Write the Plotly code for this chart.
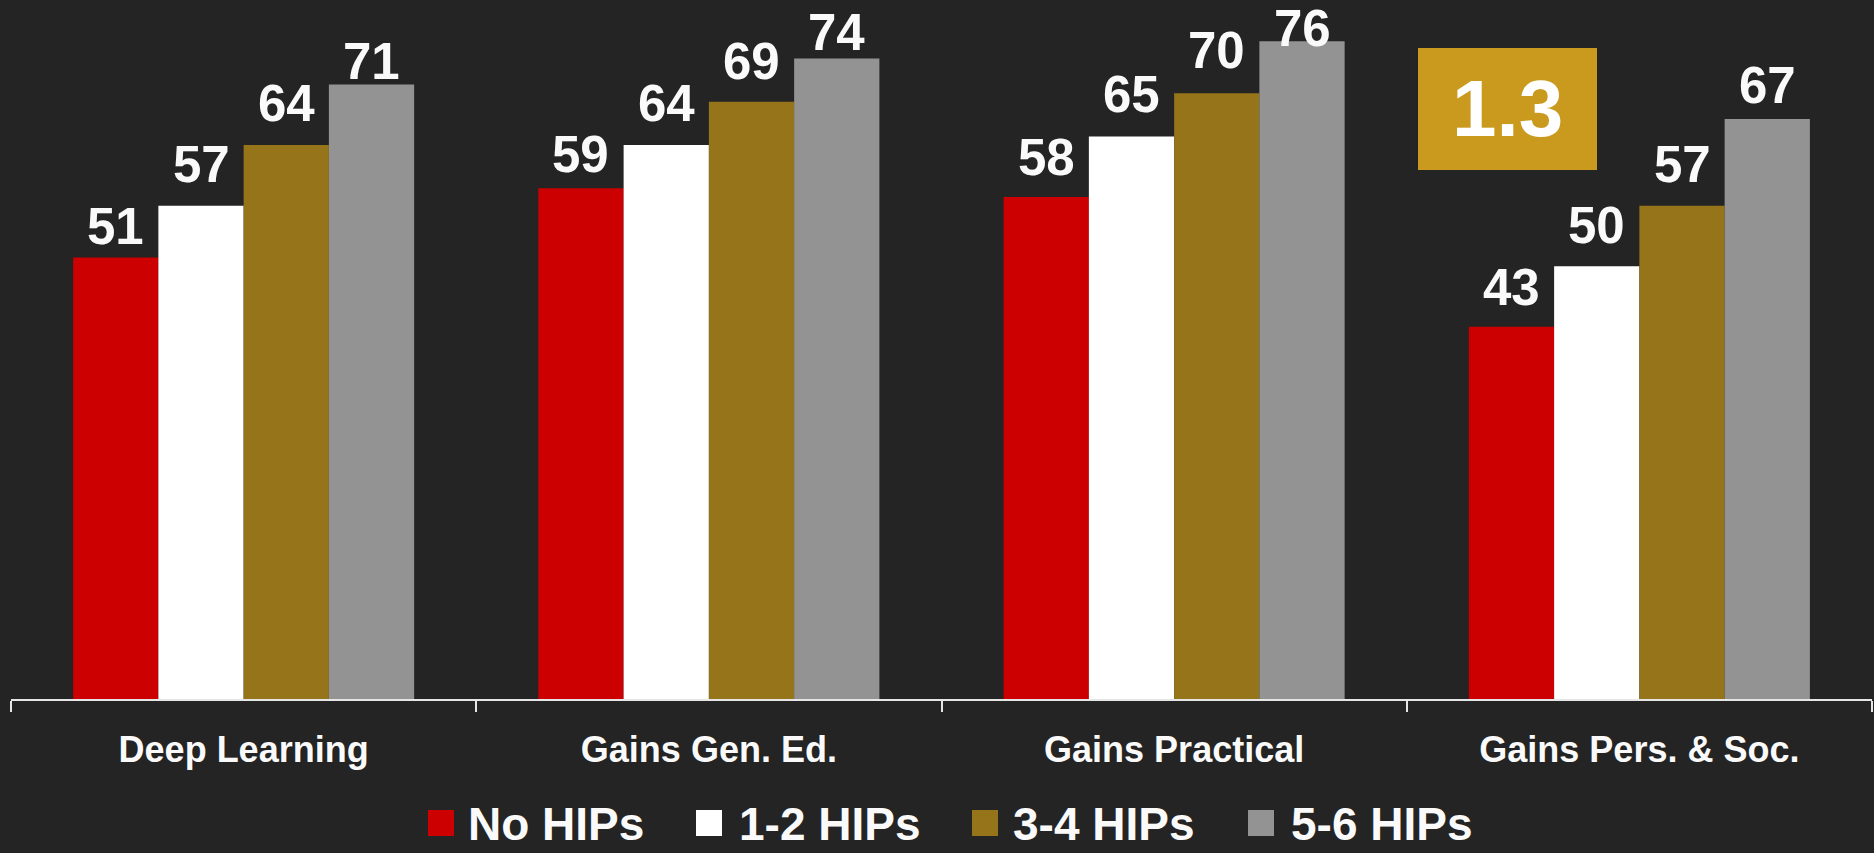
import plotly.graph_objects as go

# ---- data ----
categories = ["Deep Learning", "Gains Gen. Ed.", "Gains Practical", "Gains Pers. & Soc."]
series_names = ["No HIPs", "1-2 HIPs", "3-4 HIPs", "5-6 HIPs"]
no_hips = [51, 59, 58, 43]
hips_1_2 = [57, 64, 65, 50]
hips_3_4 = [64, 69, 70, 57]
hips_5_6 = [71, 74, 76, 67]
series_values = [no_hips, hips_1_2, hips_3_4, hips_5_6]
series_colors = ["#CC0000", "#FFFFFF", "#967419", "#939393"]
callout_text = "1.3"

# ---- style / layout constants ----
BG = "#242424"
W, H = 1874, 853
ML, MR, MT, MB = 11, 2, 0, 154
BARGAP = 0.267
Y_MAX = 80.76
FONT = "Liberation Sans, Arial, sans-serif"
TEXT_COLOR = "#FAFAFA"
# pixel gap between each value label's baseline and its bar top (per series, per category)
label_gap_px = [
    [13, 15, 21, 21],
    [23, 23, 23, 22],
    [23, 22, 24, 23],
    [4, 8, -6, 15],
]


def px_x(x):
    return (x - ML) / (W - ML - MR)


def px_y(y):
    return 1 - (y - MT) / (H - MT - MB)


fig = go.Figure()
for name, vals, col in zip(series_names, series_values, series_colors):
    fig.add_trace(go.Bar(
        name=name, x=categories, y=vals,
        marker=dict(color=col, line=dict(width=0)),
        showlegend=False, hoverinfo="x+y+name",
    ))

# value labels above bars (positioned at data coordinates)
n = len(series_names)
bar_w = (1 - BARGAP) / n
annotations = []
for i, vals in enumerate(series_values):
    off = -0.5 * (1 - BARGAP) + (i + 0.5) * bar_w
    for j, v in enumerate(vals):
        annotations.append(dict(
            x=j + off, y=v, xref="x", yref="y", text=str(v),
            showarrow=False, yanchor="bottom", xanchor="center",
            yshift=label_gap_px[i][j] - 12,
            font=dict(family=FONT, size=51, color=TEXT_COLOR, weight="bold"),
        ))

# callout box
shapes = [dict(type="rect", xref="paper", yref="paper",
               x0=px_x(1418), x1=px_x(1597), y0=px_y(170), y1=px_y(48),
               fillcolor="#C99A1E", line=dict(width=0), layer="above")]
annotations.append(dict(
    x=px_x(1507.5), y=px_y(109), xref="paper", yref="paper", text=callout_text,
    showarrow=False, xanchor="center", yanchor="middle",
    font=dict(family=FONT, size=80, color="#FFFFFF", weight="bold"),
))

# custom legend
sq_left = [428, 696, 972, 1248]
txt_left = [466, 737, 1011, 1289]
for name, col, sx, tx in zip(series_names, series_colors, sq_left, txt_left):
    shapes.append(dict(type="rect", xref="paper", yref="paper",
                       x0=px_x(sx), x1=px_x(sx + 26), y0=px_y(836), y1=px_y(810),
                       fillcolor=col, line=dict(width=0)))
    annotations.append(dict(
        x=px_x(tx), y=px_y(824), xref="paper", yref="paper", text=name,
        showarrow=False, xanchor="left", yanchor="middle",
        font=dict(family=FONT, size=46, color=TEXT_COLOR, weight="bold"),
    ))

fig.update_layout(
    width=W, height=H,
    margin=dict(l=ML, r=MR, t=MT, b=MB, pad=0),
    paper_bgcolor=BG, plot_bgcolor=BG,
    barmode="group", bargap=BARGAP, bargroupgap=0,
    showlegend=False,
    xaxis=dict(
        type="category", range=[-0.5, 3.5], showgrid=False, zeroline=False,
        showline=True, linecolor="#E6E6E6", linewidth=2,
        ticks="outside", ticklen=11, tickwidth=2, tickcolor="#E6E6E6",
        tickson="boundaries", ticklabelstandoff=18,
        tickfont=dict(family=FONT, size=36, color=TEXT_COLOR, weight="bold"),
    ),
    yaxis=dict(range=[0, Y_MAX], visible=False, showgrid=False, zeroline=False),
    annotations=annotations,
    shapes=shapes,
)

fig.write_html(
    "out.html",
    config={"displayModeBar": False},
    post_script="document.body.style.margin='0';document.body.style.padding='0';"
                "document.body.style.background='" + BG + "';",
)
